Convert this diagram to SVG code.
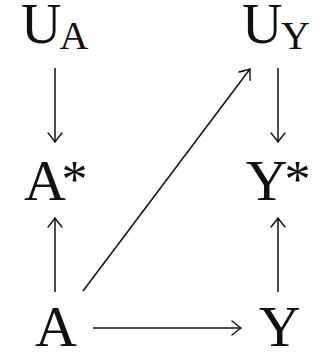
<svg xmlns="http://www.w3.org/2000/svg" width="326" height="352" viewBox="0 0 326 352">
<style>
text{font-family:'Liberation Serif','Times New Roman',serif;fill:#111;font-size:58px}
.u{font-size:56px}
.sub{font-size:40px}
.ast{font-size:52px}
.edge{stroke:#111;stroke-width:1.5;fill:none;marker-end:url(#to)}
</style>
<defs>
<marker id="to" markerUnits="userSpaceOnUse" viewBox="-11 -9 13 18" markerWidth="13" markerHeight="18" refX="0" refY="0" orient="auto" overflow="visible">
<path d="M-9,-7 Q-3,-2 0,0 Q-3,2 -9,7" fill="none" stroke="#111" stroke-width="1.4" stroke-linecap="round"/>
</marker>
</defs>
<rect width="326" height="352" fill="#fff"/>
<g id="UA"><text x="21" y="43" class="u">U<tspan x="59.6" y="49" class="sub">A</tspan></text></g>
<g id="UY"><text x="242" y="43" class="u">U<tspan x="281" y="49" class="sub">Y</tspan></text></g>
<g id="Astar"><text x="24" y="200">A<tspan x="61.5" y="197" class="ast">*</tspan></text></g>
<g id="Ystar"><text x="245.7" y="200">Y<tspan x="284.5" y="197" class="ast">*</tspan></text></g>
<g id="A"><text x="35" y="346">A</text></g>
<g id="Y"><text x="258.7" y="346">Y</text></g>
<g id="connectors">
<line class="edge" x1="55" y1="68" x2="55" y2="142"/>
<line class="edge" x1="278" y1="68" x2="278" y2="142"/>
<line class="edge" x1="55" y1="292" x2="55" y2="218"/>
<line class="edge" x1="278" y1="292" x2="278" y2="218"/>
<line class="edge" x1="83" y1="291" x2="250" y2="69"/>
<line class="edge" x1="93" y1="328" x2="241" y2="328"/>
</g>
</svg>
